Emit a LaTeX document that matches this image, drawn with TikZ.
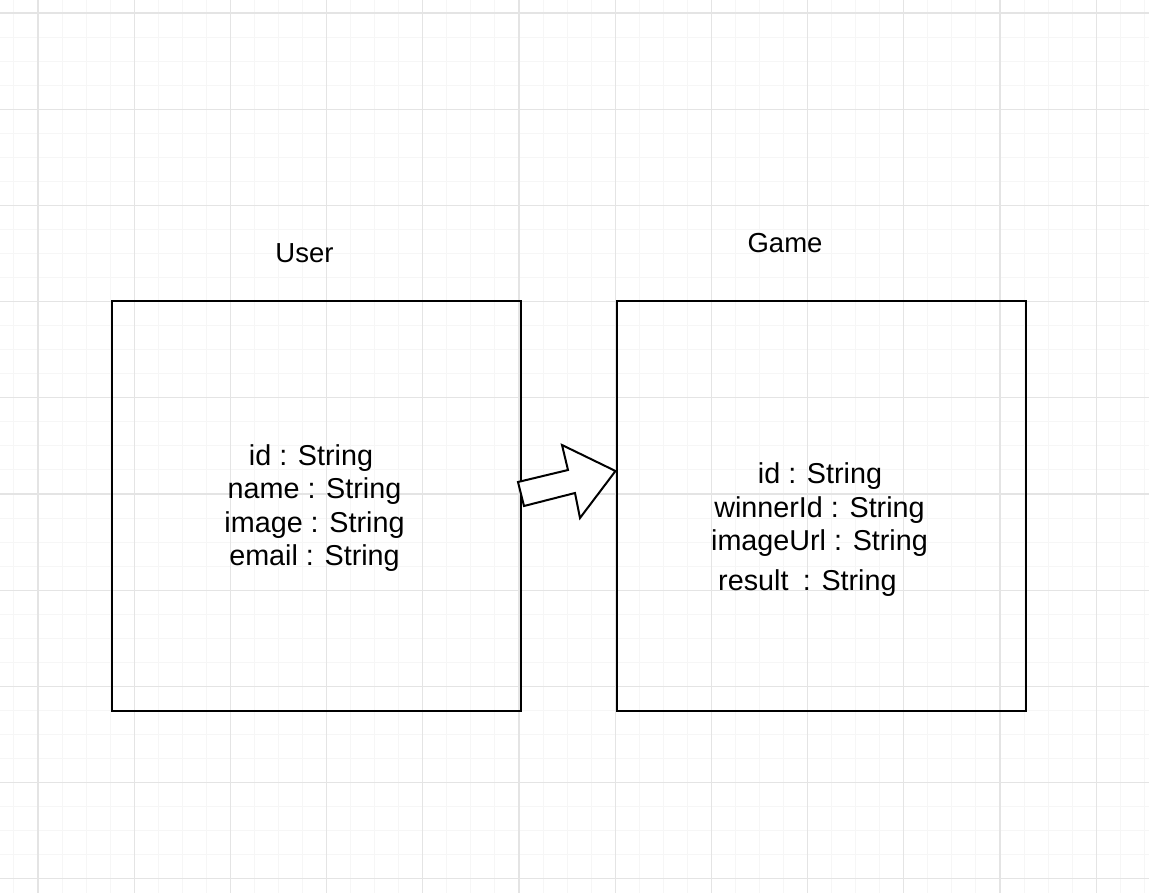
\documentclass[tikz,border=0pt]{standalone}
\usepackage{fontspec}
\setmainfont{Liberation Sans}
\begin{document}
\begin{tikzpicture}[x=1pt,y=-1pt,
  minorgrid/.style={draw={rgb,255:red,246;green,246;blue,246}, line width=1pt},
  majorgrid/.style={draw={rgb,255:red,228;green,228;blue,228}, line width=1.1pt},
  entity/.style={draw=black, line width=2pt, minimum width=409pt, minimum height=410pt, inner sep=0pt},
  attr/.style={anchor=base, font=\fontsize{28.75}{33.5}\selectfont, inner sep=0pt},
  title/.style={anchor=base, font=\fontsize{27.5}{32}\selectfont, inner sep=0pt},
  blockarrow/.style={draw=black, line width=2pt, line join=miter, fill=white}]
\useasboundingbox (0,0) rectangle (1149,893);
\fill[white] (0,0) rectangle (1149,893);
% grid
\foreach \k in {-1,...,46} {\pgfmathsetmacro\xx{38+24.05*\k} \draw[minorgrid] (\xx,0) -- (\xx,893);}
\foreach \k in {0,...,36} {\pgfmathsetmacro\yy{13+24.05*\k} \draw[minorgrid] (0,\yy) -- (1149,\yy);}
\foreach \k in {0,...,11} {\pgfmathsetmacro\xx{38+96.2*\k} \draw[majorgrid] (\xx,0) -- (\xx,893);}
\foreach \k in {0,...,9} {\pgfmathsetmacro\yy{13+96.2*\k} \draw[majorgrid] (0,\yy) -- (1149,\yy);}
% boxes
\node[entity] (user) at (316.5,506) {};
\node[entity] (game) at (821,506) {};
% titles
\node[title] (usertitle) at (304.5,263) {User};
\node[title] (gametitle) at (785,253) {Game};
% user attributes
\node[attr] (u1) at (311,465) {id : String};
\node[attr] (u2) at (314.5,498.5) {name : String};
\node[attr] (u3) at (314.5,532) {image : String};
\node[attr] (u4) at (314.5,565.5) {email : String};
% game attributes
\node[attr] (g1) at (820,483) {id : String};
\node[attr] (g2) at (819.5,517) {winnerId : String};
\node[attr] (g3) at (819.5,550) {imageUrl : String};
\node[attr, anchor=base west] (g4) at (718,590) {result\hspace{0.5em}: String};
% block arrow
\draw[blockarrow] (518,482) -- (568,470) -- (562,445) -- (game.west |- 0,471) -- (580,518) -- (575,493) -- (524,506) -- cycle;
\end{tikzpicture}
\end{document}
